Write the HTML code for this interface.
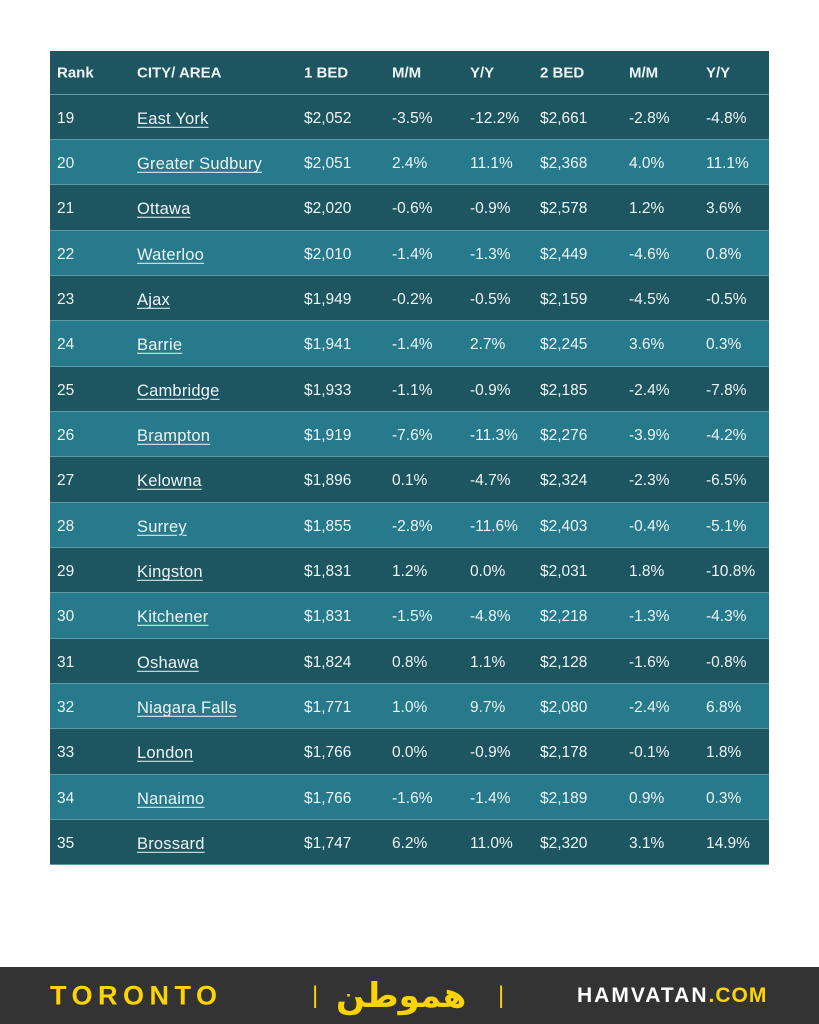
<!DOCTYPE html>
<html><head><meta charset="utf-8"><style>
body{margin:0;width:819px;height:1024px;background:#fff;position:relative;overflow:hidden;font-family:"Liberation Sans",sans-serif}
.t{position:absolute;left:50px;top:51px;width:719px}
.r{position:relative;height:45.35px;color:#eef4f5;font-size:15.5px;border-bottom:1px solid #5c9aa6;box-sizing:border-box}
.d{background:#1d5661}.l{background:#267a8c}
.r span{position:absolute;top:50%;transform:translateY(-38%);white-space:nowrap}
.h{font-weight:bold;font-size:15px;height:43.5px}
.h span{transform:translateY(-45%)}
u{text-decoration:underline;text-underline-offset:3px;font-size:16.5px;letter-spacing:0.2px}
.f{position:absolute;left:0;top:967px;width:819px;height:57px;background:#333}
.f span{position:absolute;top:50%;transform:translateY(-50%);font-weight:bold;letter-spacing:1px}
</style></head><body>
<div class="t" id="t"></div>
<div class="f">
<span style="left:50px;color:#fcd500;font-size:27px;letter-spacing:5.5px">TORONTO</span>
<span style="left:312px;color:#fcd500;font-size:24px;font-weight:normal">|</span>
<span style="left:336px;color:#fcd500;font-size:34px;font-family:'DejaVu Sans',sans-serif">هموطن</span>
<span style="left:498px;color:#fcd500;font-size:24px;font-weight:normal">|</span>
<span style="left:577px;color:#fff;font-size:21px;letter-spacing:2px">HAMVATAN<span style="position:static;transform:none;color:#fcd500">.COM</span></span>
</div>
<script>
var xs=[7,87,254,342,420,490,579,656];
var data=[["19","East York","$2,052","-3.5%","-12.2%","$2,661","-2.8%","-4.8%"],
["20","Greater Sudbury","$2,051","2.4%","11.1%","$2,368","4.0%","11.1%"],
["21","Ottawa","$2,020","-0.6%","-0.9%","$2,578","1.2%","3.6%"],
["22","Waterloo","$2,010","-1.4%","-1.3%","$2,449","-4.6%","0.8%"],
["23","Ajax","$1,949","-0.2%","-0.5%","$2,159","-4.5%","-0.5%"],
["24","Barrie","$1,941","-1.4%","2.7%","$2,245","3.6%","0.3%"],
["25","Cambridge","$1,933","-1.1%","-0.9%","$2,185","-2.4%","-7.8%"],
["26","Brampton","$1,919","-7.6%","-11.3%","$2,276","-3.9%","-4.2%"],
["27","Kelowna","$1,896","0.1%","-4.7%","$2,324","-2.3%","-6.5%"],
["28","Surrey","$1,855","-2.8%","-11.6%","$2,403","-0.4%","-5.1%"],
["29","Kingston","$1,831","1.2%","0.0%","$2,031","1.8%","-10.8%"],
["30","Kitchener","$1,831","-1.5%","-4.8%","$2,218","-1.3%","-4.3%"],
["31","Oshawa","$1,824","0.8%","1.1%","$2,128","-1.6%","-0.8%"],
["32","Niagara Falls","$1,771","1.0%","9.7%","$2,080","-2.4%","6.8%"],
["33","London","$1,766","0.0%","-0.9%","$2,178","-0.1%","1.8%"],
["34","Nanaimo","$1,766","-1.6%","-1.4%","$2,189","0.9%","0.3%"],
["35","Brossard","$1,747","6.2%","11.0%","$2,320","3.1%","14.9%"]];
var h='<div class="r d h">'+["Rank","CITY/ AREA","1 BED","M/M","Y/Y","2 BED","M/M","Y/Y"].map((v,i)=>'<span style="left:'+xs[i]+'px">'+v+'</span>').join('')+'</div>';
data.forEach((r,k)=>{h+='<div class="r '+(k%2?'l':'d')+'">'+r.map((v,i)=>'<span style="left:'+xs[i]+'px">'+(i==1?'<u>'+v+'</u>':v)+'</span>').join('')+'</div>';});
document.getElementById('t').innerHTML=h;
</script>
</body></html>
